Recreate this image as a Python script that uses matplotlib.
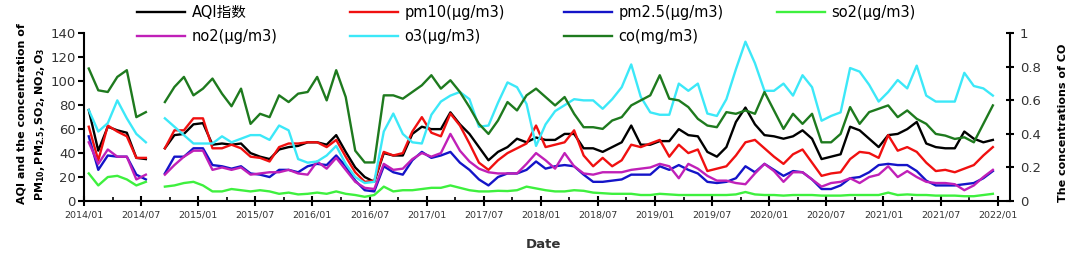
import numpy as np
import matplotlib
matplotlib.use('Agg')
import matplotlib.pyplot as plt
from matplotlib.ticker import FixedLocator

nan = np.nan

# monthly averages 2014/01 - 2021/12 (2014/08 missing)
aqi = [76, 42, 62, 59, 57, 36, 35, nan,
       44, 55, 56, 64, 65, 47, 48, 47, 48, 40,
       37, 35, 43, 45, 46, 49, 49, 47, 55, 41,
       28, 20, 16, 40, 38, 38, 56, 62, 60, 60,
       74, 64, 56, 45, 34, 41, 45, 52, 49, 53,
       51, 51, 56, 56, 44, 44, 41, 45, 49, 63,
       47, 47, 50, 50, 60, 55, 54, 41, 37, 45,
       66, 78, 64, 55, 54, 52, 54, 59, 52, 35,
       37, 39, 62, 59, 52, 45, 55, 56, 60, 66,
       48, 45, 44, 44, 58, 52, 49, 51]
pm10 = [62, 34, 63, 58, 54, 36, 36, nan,
        44, 59, 59, 69, 69, 44, 44, 47, 44, 37,
        36, 33, 45, 48, 48, 49, 49, 45, 51, 37,
        24, 16, 17, 41, 38, 40, 58, 70, 57, 54,
        73, 63, 48, 32, 26, 34, 40, 44, 48, 63,
        45, 47, 49, 59, 38, 29, 36, 29, 34, 47,
        45, 48, 51, 37, 47, 40, 43, 25, 27, 29,
        38, 49, 51, 44, 37, 31, 39, 43, 32, 21,
        23, 24, 35, 41, 40, 36, 55, 42, 45, 41,
        32, 25, 26, 24, 27, 30, 38, 45]
pm25 = [54, 26, 38, 37, 37, 22, 18, nan,
        23, 37, 37, 44, 44, 30, 29, 27, 29, 23,
        22, 20, 26, 26, 24, 29, 31, 30, 38, 29,
        17, 9, 8, 29, 24, 22, 34, 41, 36, 38,
        41, 32, 26, 18, 13, 20, 23, 23, 26, 33,
        27, 29, 30, 29, 22, 16, 16, 17, 18, 22,
        22, 22, 29, 26, 30, 26, 23, 16, 15, 16,
        19, 29, 24, 31, 26, 21, 25, 24, 18, 10,
        10, 13, 19, 20, 24, 30, 31, 30, 30, 25,
        17, 13, 13, 13, 14, 15, 19, 25]
so2 = [23, 13, 20, 21, 18, 13, 16, nan,
       12, 13, 15, 16, 13, 8, 8, 10, 9, 8,
       9, 8, 6, 7, 5.5, 6, 7, 6, 8, 6,
       5, 3.5, 5, 12, 8, 9, 9, 10, 11, 11,
       13, 11, 9, 8, 8, 8.5, 8.3, 9, 12, 10.5,
       9, 8, 8, 9, 8.5, 7, 6.5, 6, 6, 6,
       5, 5, 6, 5.5, 5, 5, 5, 5, 5, 5,
       5.5, 7.5, 5.5, 5, 5, 4.5, 5, 5, 5, 4.5,
       4.5, 4.5, 5, 5, 5, 5, 7, 5, 5.5, 5,
       5, 4.5, 4.5, 4.5, 4, 4, 5, 6]
no2 = [49, 31, 43, 37, 37, 18, 22, nan,
       22, 30, 37, 42, 42, 26, 28, 26, 28, 22,
       23, 24, 24, 26, 23, 22, 33, 27, 36, 26,
       16, 11, 10, 31, 26, 27, 35, 40, 37, 40,
       56, 42, 33, 27, 24, 23, 23, 23, 31, 40,
       34, 27, 40, 29, 23, 22, 24, 24, 24, 26,
       27, 28, 31, 29, 19, 31, 27, 21, 17, 17,
       15, 14, 23, 31, 25, 16, 24, 24, 18, 12,
       15, 16, 19, 15, 20, 22, 29, 20, 25, 20,
       16, 15, 15, 14, 9, 13, 20, 26]
o3 = [76, 58, 65, 84, 69, 56, 49, nan,
      69, 62, 55, 48, 48, 48, 54, 49, 52, 55,
      55, 51, 63, 59, 35, 32, 33, 38, 46, 31,
      20, 15, 16, 58, 73, 56, 49, 48, 72, 83,
      88, 91, 85, 62, 63, 82, 99, 95, 81, 46,
      64, 75, 80, 85, 84, 84, 77, 85, 95, 114,
      87, 74, 72, 72, 98, 92, 98, 73, 71, 85,
      110, 133, 115, 92, 92, 98, 88, 105, 95, 67,
      71, 74, 111, 108, 97, 83, 91, 101, 94, 113,
      88, 83, 83, 83, 107, 96, 94, 88]
co = [0.79, 0.66, 0.65, 0.74, 0.78, 0.50, 0.53, nan,
      0.59, 0.68, 0.74, 0.63, 0.67, 0.73, 0.64, 0.565, 0.67, 0.46,
      0.52, 0.50, 0.63, 0.59, 0.64, 0.65, 0.74, 0.60, 0.78, 0.62,
      0.30, 0.23, 0.23, 0.63, 0.63, 0.61, 0.65, 0.69, 0.75, 0.67,
      0.72, 0.65, 0.56, 0.46, 0.40, 0.48, 0.59, 0.54, 0.63, 0.67,
      0.62, 0.57, 0.62, 0.52, 0.44, 0.44, 0.43, 0.48, 0.50, 0.57,
      0.60, 0.63, 0.75, 0.61, 0.60, 0.56, 0.49, 0.45, 0.44, 0.53,
      0.52, 0.54, 0.52, 0.65, 0.54, 0.43, 0.52, 0.46, 0.52, 0.35,
      0.35, 0.40, 0.56, 0.46, 0.53, 0.55, 0.57, 0.50, 0.54, 0.49,
      0.46, 0.40, 0.39, 0.37, 0.38, 0.35, 0.46, 0.57]

date_labels = ['2014/01', '2014/07', '2015/01', '2015/07', '2016/01', '2016/07',
               '2017/01', '2017/07', '2018/01', '2018/07', '2019/01', '2019/07',
               '2020/01', '2020/07', '2021/01', '2021/07', '2022/01']
co_ticks = [0, 0.2, 0.4, 0.6, 0.8, 1]
co_labels = ['0', '0.2', '0.4', '0.6', '0.8', '1']

plt.rcParams['font.family'] = ['DejaVu Sans', 'Noto Sans CJK SC']

W, H = 1072, 256
fig = plt.figure(figsize=(W / 100, H / 100), dpi=100)
ax = fig.add_axes([84 / W, 55 / H, 926 / W, 167.7 / H])

x = np.arange(len(aqi)) + 0.5
lw = 1.7
l_aqi, = ax.plot(x, aqi, color='black', lw=lw)
l_pm10, = ax.plot(x, pm10, color='#f01010', lw=lw)
l_pm25, = ax.plot(x, pm25, color='#1414c8', lw=lw)
l_so2, = ax.plot(x, so2, color='#3ef03e', lw=lw)
l_no2, = ax.plot(x, no2, color='#c020b8', lw=lw)
l_o3, = ax.plot(x, o3, color='#3ce8f8', lw=lw)

ax2 = ax.twinx()
l_co, = ax2.plot(x, co, color='#1e7a1e', lw=lw)

ax.set_xlim(0, 97.3)
ax.set_ylim(0, 140)
ax2.set_ylim(0, 1)

ax.set_xticks(np.arange(0, 97, 6))
ax.set_xticklabels(date_labels)
ax.xaxis.set_minor_locator(FixedLocator(np.arange(3, 97, 6)))
ax.set_yticks(np.arange(0, 141, 20))
ax2.set_yticks(co_ticks)
ax2.set_yticklabels(co_labels)

for a in (ax, ax2):
    a.spines['top'].set_visible(False)
    for s in ('left', 'right', 'bottom'):
        a.spines[s].set_linewidth(1.5)
ax.spines['right'].set_visible(False)
ax2.spines['left'].set_visible(False)
ax2.spines['bottom'].set_visible(False)

ax.tick_params(axis='x', which='major', direction='inout', length=7, width=1.5,
               labelsize=6.8, labelcolor='#333333', pad=3)
ax.tick_params(axis='x', which='minor', direction='in', length=3, width=1.2)
ax.tick_params(axis='y', direction='out', length=4, width=1.5, labelsize=9.5,
               labelcolor='#333333', pad=2)
ax2.tick_params(axis='y', direction='inout', length=6, width=1.5, labelsize=9.5,
                labelcolor='#333333', pad=4)

fig.text(22 / W, 1 - 114 / H, 'AQI and the concentration of', rotation=90,
         ha='center', va='center', fontsize=8, fontweight='bold')
fig.text(40 / W, 1 - 124 / H, r'$\mathbf{PM_{10},PM_{2.5},SO_{2},NO_{2},O_{3}}$',
         rotation=90, ha='center', va='center', fontsize=8)
fig.text(1063 / W, 1 - 123 / H, 'The concentrations of CO', rotation=90,
         ha='center', va='center', fontsize=8, fontweight='bold')
fig.text(543 / W, 1 - 245 / H, 'Date', ha='center', va='center',
         fontsize=9.5, fontweight='bold', color='#333333')

columns = [(137, [l_aqi, l_no2], ['AQI指数', 'no2(μg/m3)']),
           (350, [l_pm10, l_o3], ['pm10(μg/m3)', 'o3(μg/m3)']),
           (564, [l_pm25, l_co], ['pm2.5(μg/m3)', 'co(mg/m3)']),
           (777, [l_so2], ['so2(μg/m3)'])]
for x0, hs, labs in columns:
    fig.legend(hs, labs, loc='upper left', bbox_to_anchor=(x0 / W, 1 - 5 / H),
               frameon=False, fontsize=10.5, handlelength=3.3, handletextpad=0.45,
               borderpad=0, borderaxespad=0, labelspacing=0.62)

fig.savefig('out.png', dpi=100)
